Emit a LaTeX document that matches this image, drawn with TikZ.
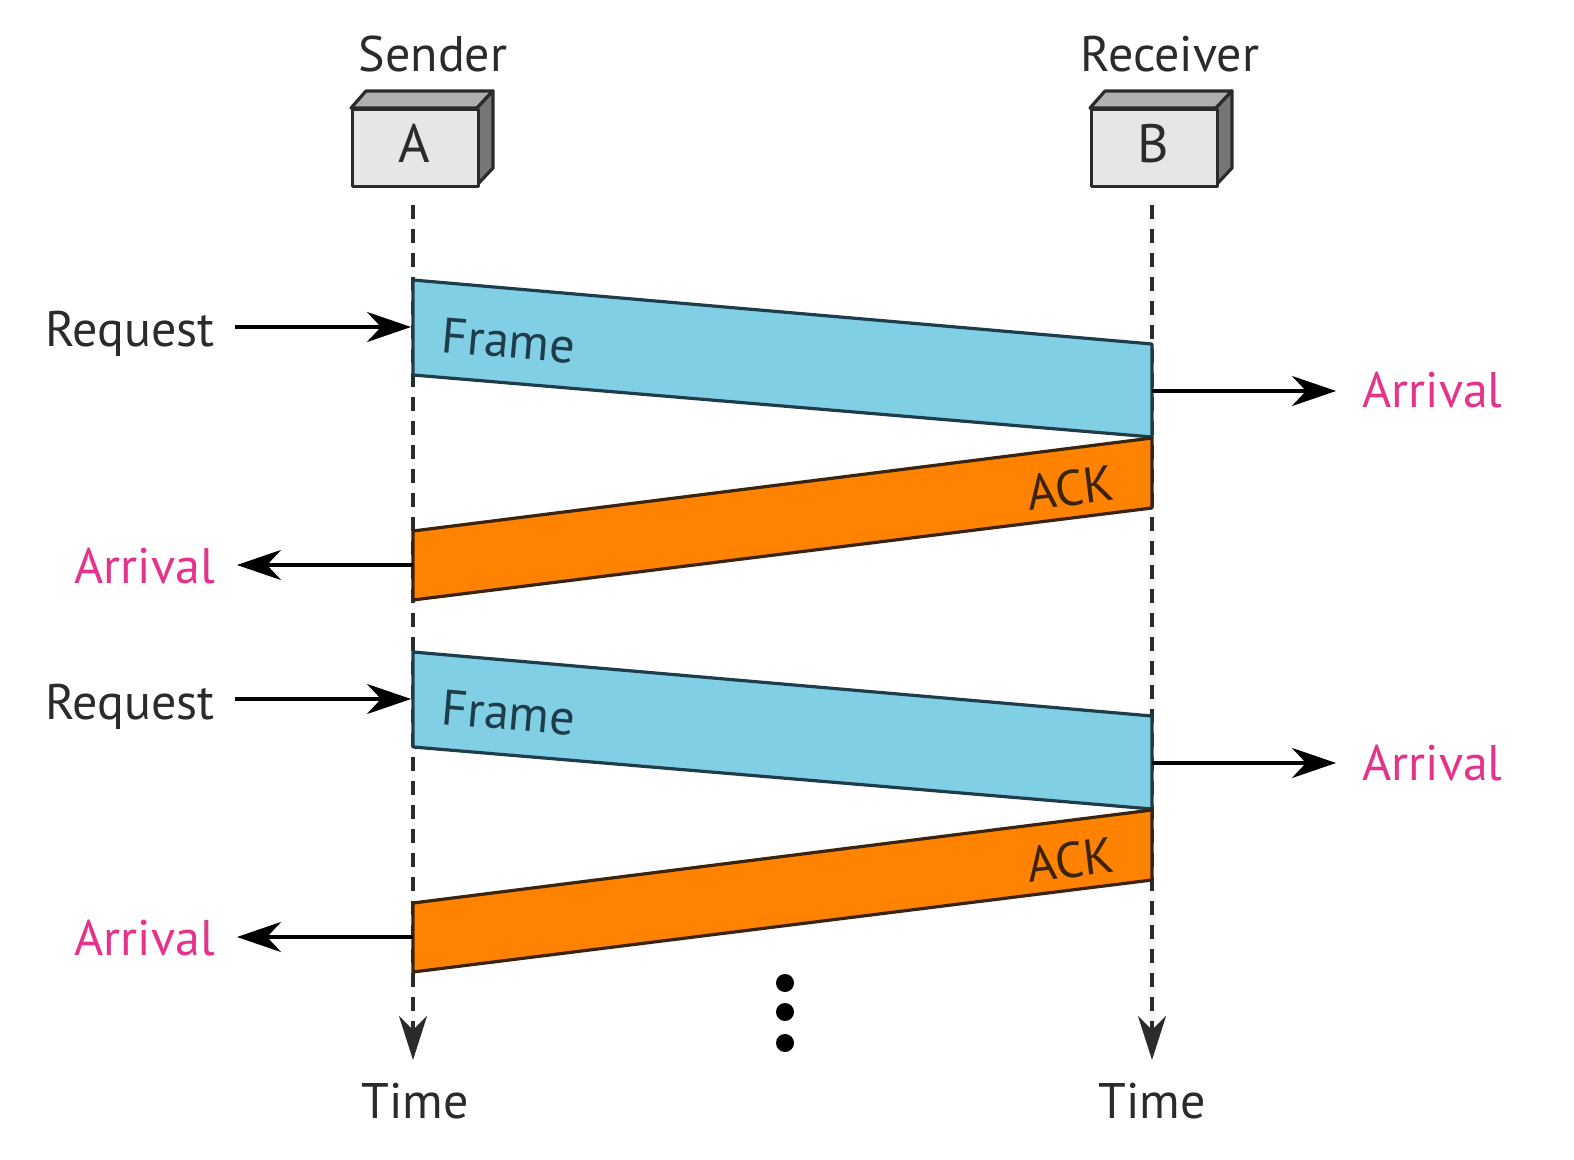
\documentclass[tikz,border=0pt]{standalone}
\usepackage{fontspec}
\setmainfont{PT Sans}
\usetikzlibrary{arrows.meta}
\definecolor{txt}{HTML}{2B2B2B}
\definecolor{frameblue}{HTML}{80CFE4}
\definecolor{frameline}{HTML}{1E3C4A}
\definecolor{ackorange}{HTML}{FF8200}
\definecolor{ackline}{HTML}{3A2410}
\definecolor{arrmag}{HTML}{E5338C}
\definecolor{boxfront}{HTML}{E6E6E6}
\definecolor{boxtop}{HTML}{B0B0B0}
\definecolor{boxside}{HTML}{767676}
\begin{document}
\begin{tikzpicture}[x=0.5pt,y=-0.5pt,
  lbl/.style={font=\fontsize{25}{30}\selectfont, text=txt, inner sep=0pt},
  arrlbl/.style={font=\fontsize{25}{30}\selectfont, text=arrmag, inner sep=0pt},
  framelbl/.style={font=\fontsize{25}{30}\selectfont, text=frameline, inner sep=0pt},
  acklbl/.style={font=\fontsize{25}{30}\selectfont, text=ackline, inner sep=0pt},
  arr/.style={line width=2pt, draw=black, -{Stealth[length=22pt,width=15pt,inset=7pt]}},
  timeline/.style={line width=1.6pt, draw=txt, dash pattern=on 7pt off 5pt, -{Stealth[length=22pt,width=14pt,inset=7pt]}},
  framepkt/.style={fill=frameblue, draw=frameline, line width=1.6pt, line join=round},
  ackpkt/.style={fill=ackorange, draw=ackline, line width=1.6pt, line join=round},
  boxedge/.style={draw=txt, line width=1.6pt, line join=round},
]
\useasboundingbox (0,0) rectangle (1574,1160);

% station boxes
\foreach \n/\cx/\lab in {A/413/A, B/1152/B}{
  \fill[boxtop, boxedge] (\cx-62,108) -- (\cx-47,91) -- (\cx+80,91) -- (\cx+64,108) -- cycle;
  \fill[boxside, boxedge] (\cx+64,108) -- (\cx+80,91) -- (\cx+80,168) -- (\cx+64,185) -- cycle;
  \node[boxedge, fill=boxfront, minimum width=63pt, minimum height=38.5pt, inner sep=0pt,
        anchor=north west] (box\n) at (\cx-62,108) {};
  \node[lbl, anchor=base] (let\n) at (\cx+1,163) {\fontsize{27}{30}\selectfont\lab};
}
\node[lbl, anchor=base] (sender) at (433,72) {Sender};
\node[lbl, anchor=base] (receiver) at (1170,72) {Receiver};

% timelines
\coordinate (At) at (413,205);
\coordinate (Ab) at (413,1060);
\coordinate (Bt) at (1152,205);
\coordinate (Bb) at (1152,1060);
\draw[timeline] (At) -- (Ab);
\draw[timeline] (Bt) -- (Bb);
\node[lbl, anchor=base] (timeA) at (415,1118) {Time};
\node[lbl, anchor=base] (timeB) at (1152,1118) {Time};

% exchange 1 and 2
\foreach \k/\dy in {1/0, 2/372}{
  \coordinate (f\k a) at (413,280+\dy);
  \coordinate (f\k b) at (1152,344+\dy);
  \coordinate (f\k c) at (1152,437+\dy);
  \coordinate (f\k d) at (413,375+\dy);
  \coordinate (k\k a) at (1152,438+\dy);
  \coordinate (k\k b) at (1152,508+\dy);
  \coordinate (k\k c) at (413,600+\dy);
  \coordinate (k\k d) at (413,531+\dy);
  \draw[framepkt] (f\k a) -- (f\k b) -- (f\k c) -- (f\k d) -- cycle;
  \draw[ackpkt] (k\k a) -- (k\k b) -- (k\k c) -- (k\k d) -- cycle;
  \node[framelbl, anchor=base west, rotate=-5] (frame\k) at (440,352+\dy) {Frame};
  \node[acklbl, anchor=base east, rotate=7] (ack\k) at (1116,500+\dy) {ACK};

  \node[lbl, anchor=base east] (req\k) at (215,347+\dy) {Request};
  \coordinate (reqend\k) at (411,327+\dy);
  \draw[arr] (235,327+\dy) -- (reqend\k);

  \node[arrlbl, anchor=base west] (arrB\k) at (1362,408+\dy) {Arrival};
  \coordinate (arrBs\k) at (1152,391+\dy);
  \draw[arr] (arrBs\k) -- ([xshift=-13pt]arrB\k.west |- arrBs\k);

  \node[arrlbl, anchor=base east] (arrA\k) at (215,583+\dy) {Arrival};
  \coordinate (arrAs\k) at (413,565+\dy);
  \draw[arr] (arrAs\k) -- ([xshift=11pt]arrA\k.east |- arrAs\k);
}

% continuation dots
\foreach \y [count=\i] in {983,1012,1043}{
  \fill[black] (785,\y) circle (4.5pt) coordinate (dot\i);
}
\end{tikzpicture}
\end{document}
